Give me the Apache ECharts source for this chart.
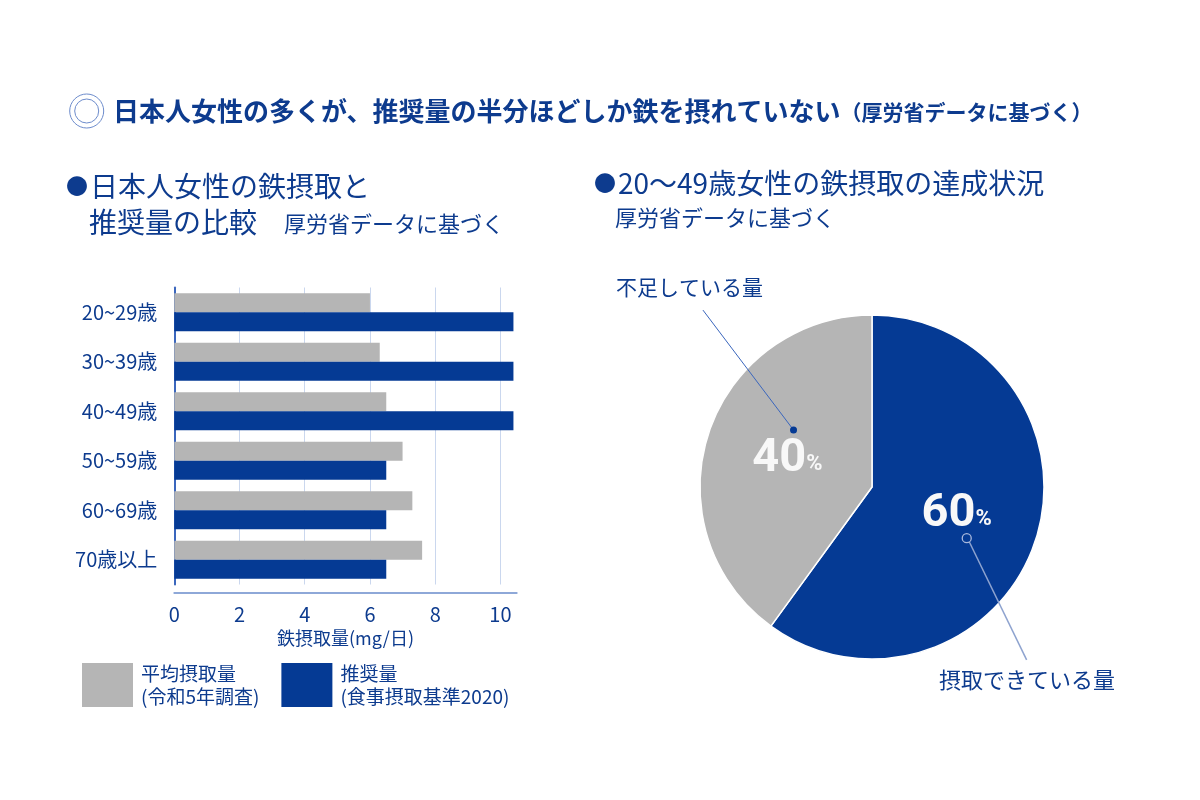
<!DOCTYPE html>
<html>
<head>
<meta charset="UTF-8">
<title>鉄摂取の比較</title>
<style type="text/css">
html, body {
	margin: 0;
	padding: 0;
	background: #ffffff;
}
#main {
	width: 1200px;
	height: 800px;
}
</style>
</head>
<body>
	<div id="main"></div>
</body>
<script type="text/javascript" src="https://cdn.jsdelivr.net/npm/echarts@6/dist/echarts.min.js"></script>
<script type="text/javascript">
	// 棒グラフのデータ
	var ageGroups = [ "20~29歳", "30~39歳", "40~49歳", "50~59歳", "60~69歳", "70歳以上" ];
	var avgIntake = [ 6.0, 6.3, 6.5, 7.0, 7.3, 7.6 ];
	var recommended = [ 10.4, 10.4, 10.4, 6.5, 6.5, 6.5 ];
	var xMin = 0;
	var xMax = 10.5;
	var xStep = 2;

	// 円グラフのデータ
	var pieNames = [ "摂取できている量", "不足している量" ];
	var pieValues = [ 60, 40 ];

	var BLUE = "#053a94";
	var GREY = "#b5b5b5";
	var TEXT = "#0d3b8e";
	var FONT = "Noto Sans CJK JP";

	// 円の位置（注釈線の計算にも使う）
	var pieCx = 872, pieCy = 487, pieR = 172;
	function polar(deg, r) {
		var a = deg * Math.PI / 180;
		return [ pieCx + r * Math.sin(a), pieCy - r * Math.cos(a) ];
	}
	var dotGrey = polar(306, 97);
	var endGrey = polar(316.3, 244.7);
	var dotBlue = polar(118.4, 107.7);
	var endBlue = polar(138.2, 232);

	var chart = echarts.init(document.getElementById("main"));

	// 見出しの書式
	var bullet = { fontSize: 22, color: TEXT, fontFamily: FONT, fontWeight: "normal", padding: [ 0, 2, 0, 0 ] };
	var head = { fontSize: 28, color: TEXT, fontFamily: FONT, fontWeight: "normal" };
	var note = { fontSize: 22, color: TEXT, fontFamily: FONT, fontWeight: "normal" };

	var option = {
		backgroundColor: "#ffffff",
		textStyle: { fontFamily: FONT },
		animation: false,
		title: [ {
			left: 113,
			top: 98,
			padding: 0,
			text: "{a|日本人女性の多くが、推奨量の半分ほどしか鉄を摂れていない}{b|（厚労省データに基づく）}",
			textStyle: {
				rich: {
					a: { fontSize: 26, fontWeight: "bold", color: TEXT, fontFamily: FONT },
					b: { fontSize: 21, fontWeight: "bold", color: TEXT, fontFamily: FONT, padding: [ 3, 0, 0, 0 ] }
				}
			}
		}, {
			left: 66,
			top: 172,
			padding: 0,
			text: "{c|●}{a|日本人女性の鉄摂取と}",
			textStyle: { rich: { c: bullet, a: head } }
		}, {
			left: 89,
			top: 208,
			padding: 0,
			text: "{a|推奨量の比較}{b|厚労省データに基づく}",
			textStyle: {
				rich: {
					a: head,
					b: { fontSize: 22, color: TEXT, fontFamily: FONT, fontWeight: "normal", padding: [ 4, 0, 0, 27 ] }
				}
			}
		}, {
			left: 594,
			top: 169,
			padding: 0,
			text: "{c|●}{a|20〜49歳女性の鉄摂取の達成状況}",
			textStyle: { rich: { c: bullet, a: head } }
		}, {
			left: 615,
			top: 207,
			padding: 0,
			text: "{b|厚労省データに基づく}",
			textStyle: { rich: { b: note } }
		} ],
		legend: {
			left: 82,
			top: 662,
			padding: 0,
			icon: "rect",
			itemWidth: 51,
			itemHeight: 44,
			itemGap: 22,
			data: [ "平均摂取量", "推奨量" ],
			formatter: function(name) {
				return name == "平均摂取量" ? "平均摂取量\n(令和5年調査)" : "推奨量\n(食事摂取基準2020)";
			},
			textStyle: { fontSize: 19, lineHeight: 23, color: TEXT, fontFamily: FONT, padding: [ 0, 0, 0, 3 ] }
		},
		grid: {
			left: 174.3,
			width: 342.4,
			top: 287.5,
			height: 297,
			containLabel: false
		},
		xAxis: {
			type: "value",
			min: xMin,
			max: xMax,
			interval: xStep,
			offset: 8.5,
			name: "鉄摂取量(mg/日)",
			nameLocation: "middle",
			nameGap: 36,
			nameTextStyle: { fontSize: 18, color: TEXT, fontFamily: FONT },
			axisLine: { show: true, lineStyle: { color: "#8ea8d8", width: 2 } },
			axisTick: { show: false },
			axisLabel: { fontSize: 20, color: TEXT, margin: 11, showMaxLabel: false, fontFamily: FONT },
			splitLine: { show: true, showMaxLine: false, lineStyle: { color: "#cad7ee", width: 1 } }
		},
		yAxis: {
			type: "category",
			inverse: true,
			data: ageGroups,
			axisLine: { show: true, lineStyle: { color: "#3a66bd", width: 2 } },
			axisTick: { show: false },
			axisLabel: { fontSize: 20, color: TEXT, margin: 17, fontFamily: FONT }
		},
		series: [ {
			name: "平均摂取量",
			type: "bar",
			data: avgIntake,
			barWidth: 19,
			barGap: "0%",
			itemStyle: { color: GREY }
		}, {
			name: "推奨量",
			type: "bar",
			data: recommended,
			barWidth: 19,
			barGap: "0%",
			itemStyle: { color: BLUE }
		}, {
			name: "鉄摂取の達成状況",
			type: "pie",
			center: [ pieCx, pieCy ],
			radius: pieR,
			startAngle: 90,
			clockwise: true,
			data: [ {
				name: pieNames[0],
				value: pieValues[0],
				itemStyle: { color: BLUE }
			}, {
				name: pieNames[1],
				value: pieValues[1],
				itemStyle: { color: GREY }
			} ],
			itemStyle: { borderColor: "#ffffff", borderWidth: 1.5 },
			label: {
				show: true,
				position: "inside",
				formatter: "{n|{c}}{p|%}",
				rich: {
					n: { fontSize: 47, fontWeight: "bold", color: "#f8f8f8", fontFamily: "Roboto" },
					p: { fontSize: 22, fontWeight: "bold", color: "#f8f8f8", fontFamily: "Roboto", padding: [ 10, 0, 0, 0 ] }
				}
			},
			labelLine: { show: false },
			emphasis: { disabled: true }
		} ],
		graphic: [ {
			type: "circle",
			shape: { cx: 86.7, cy: 111, r: 17 },
			style: { fill: "none", stroke: "#6d8ccc", lineWidth: 1 }
		}, {
			type: "circle",
			shape: { cx: 86.7, cy: 111, r: 12 },
			style: { fill: "none", stroke: "#6d8ccc", lineWidth: 1 }
		}, {
			type: "line",
			shape: { x1: dotGrey[0], y1: dotGrey[1], x2: endGrey[0], y2: endGrey[1] },
			style: { stroke: "#3a66bd", lineWidth: 1 },
			z: 10
		}, {
			type: "circle",
			shape: { cx: dotGrey[0], cy: dotGrey[1], r: 3.5 },
			style: { fill: BLUE },
			z: 11
		}, {
			type: "line",
			shape: { x1: dotBlue[0] + 2.5, y1: dotBlue[1] + 3.5, x2: endBlue[0], y2: endBlue[1] },
			style: { stroke: "#8ea3cf", lineWidth: 1.5 },
			z: 10
		}, {
			type: "circle",
			shape: { cx: dotBlue[0], cy: dotBlue[1], r: 4.5 },
			style: { fill: BLUE, stroke: "#a9b8dc", lineWidth: 1.3 },
			z: 11
		}, {
			type: "text",
			left: 616,
			top: 277,
			style: { text: pieNames[1], fontSize: 21, fill: TEXT, fontFamily: FONT },
			z: 11
		}, {
			type: "text",
			left: 939,
			top: 669,
			style: { text: pieNames[0], fontSize: 22, fill: TEXT, fontFamily: FONT },
			z: 11
		} ]
	};

	chart.setOption(option);
</script>
</html>
